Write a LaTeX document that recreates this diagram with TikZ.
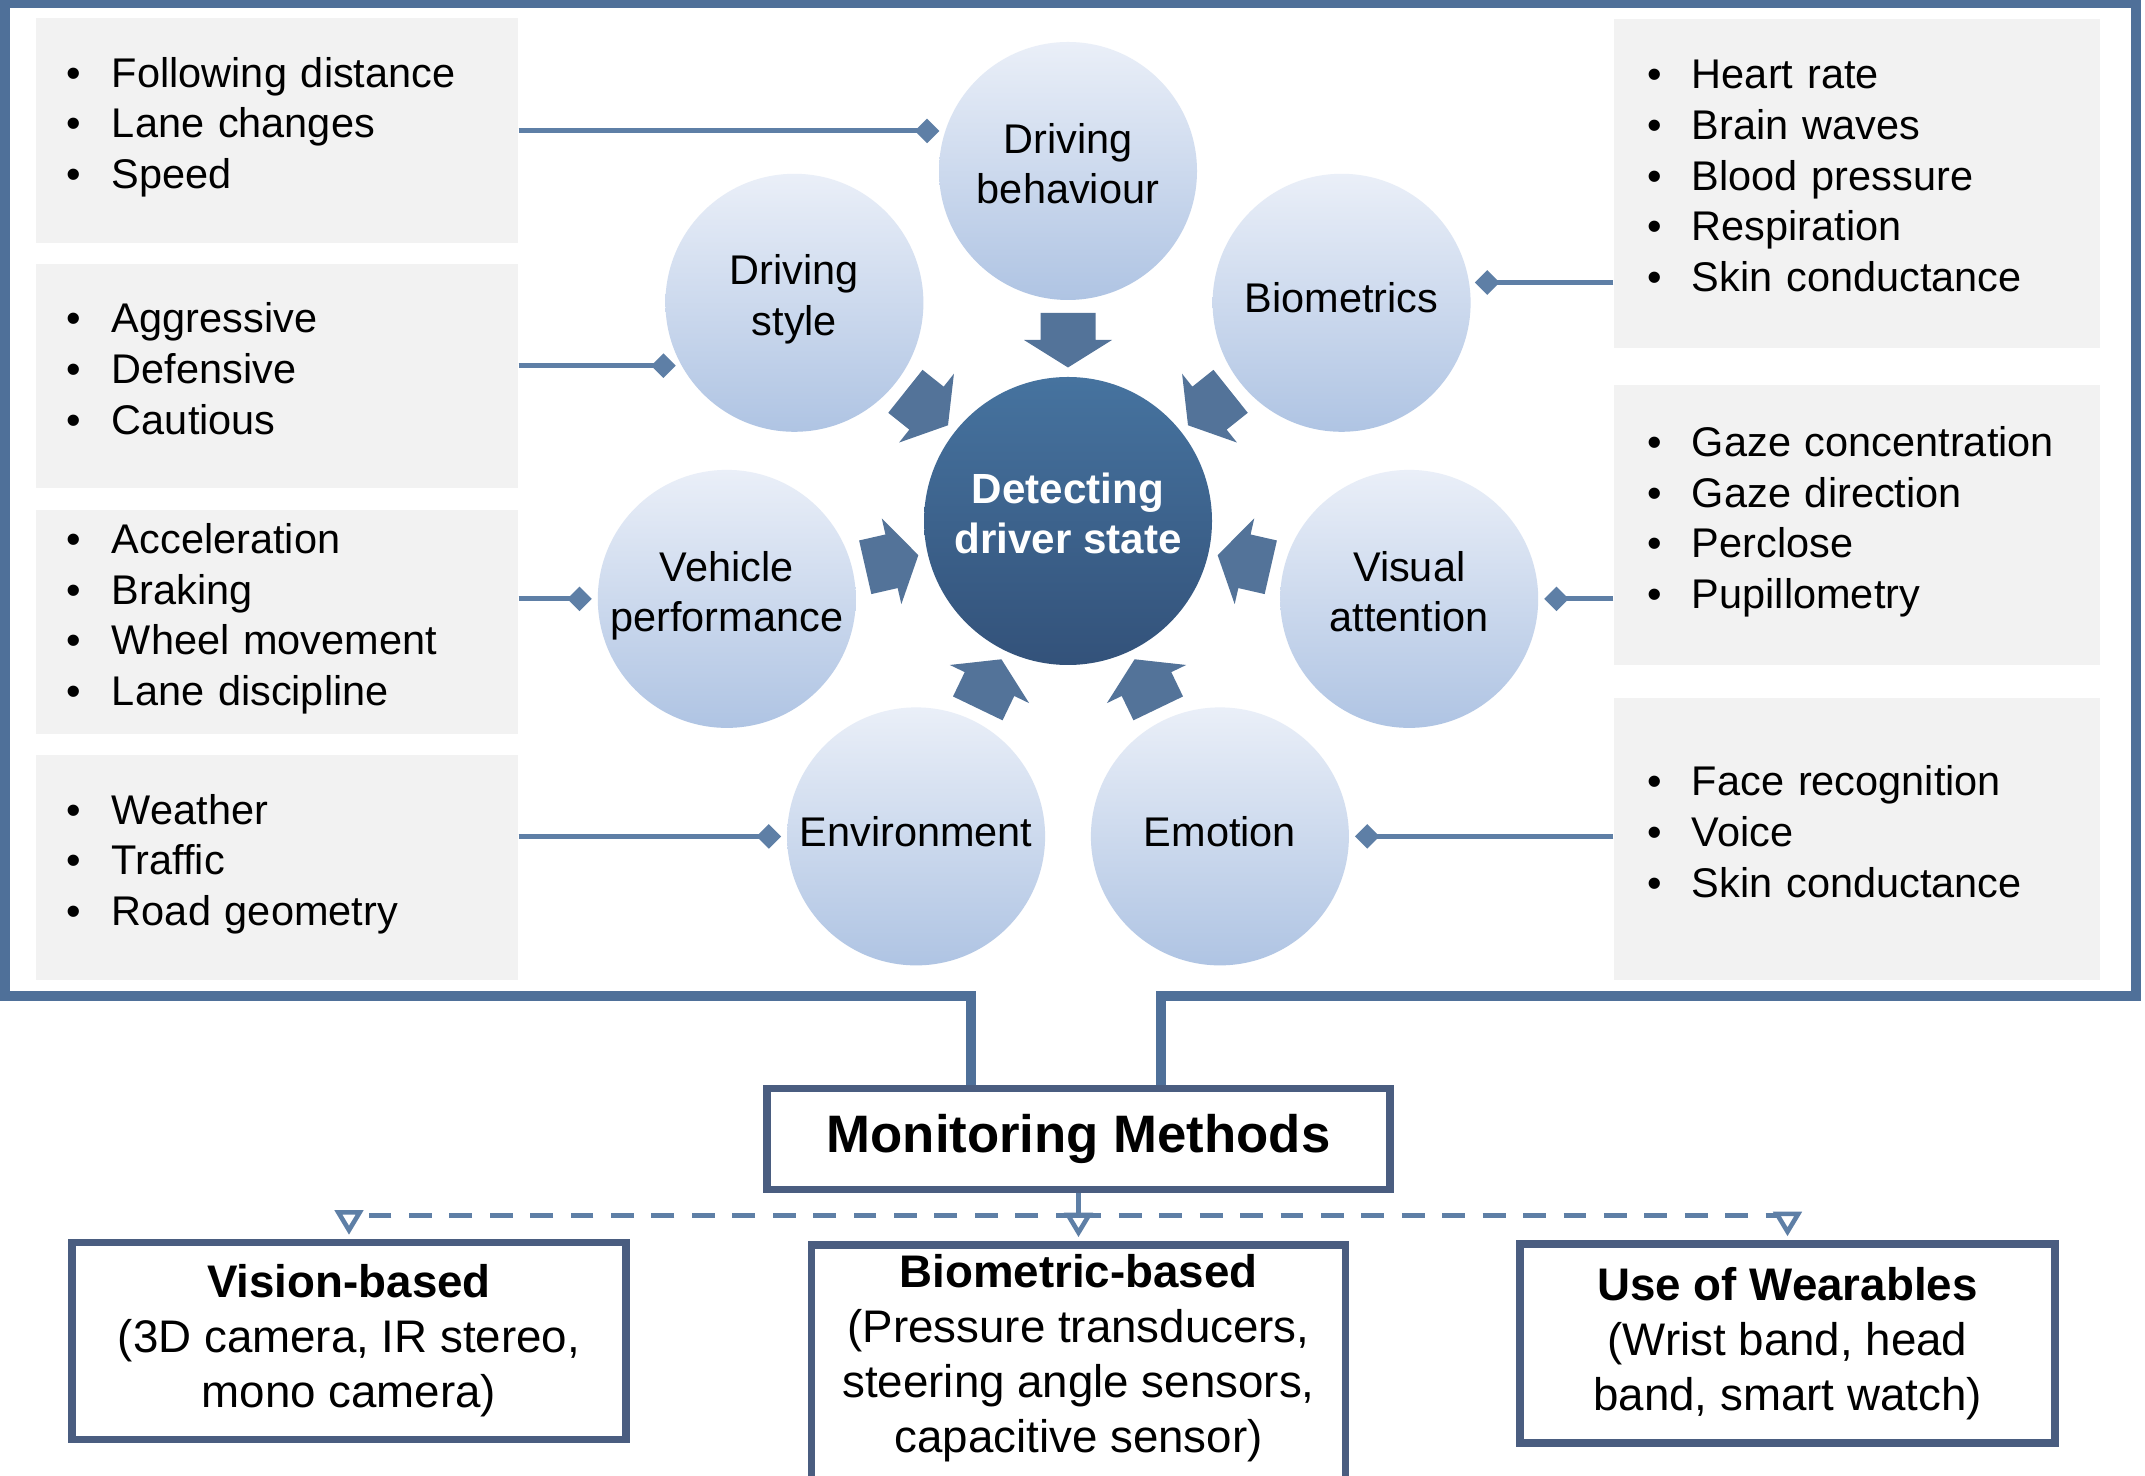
\documentclass[tikz,border=0pt]{standalone}
\usepackage{fontspec}
\setmainfont{Liberation Sans}
\usetikzlibrary{arrows.meta,positioning}

\definecolor{framecol}{HTML}{4F7099}
\definecolor{boxline}{HTML}{4A5D80}
\definecolor{linkcol}{HTML}{5E7FA6}
\definecolor{listgray}{HTML}{F2F2F2}
\definecolor{petaltop}{HTML}{EAEFF8}
\definecolor{petalbot}{HTML}{AFC4E3}
\definecolor{coretop}{HTML}{46739F}
\definecolor{corebot}{HTML}{33527A}
\definecolor{arrowcol}{HTML}{537399}

\newcommand{\bul}{\makebox[0.45cm][l]{\textbullet}}

\begin{document}
\begin{tikzpicture}[
    listbox/.style={fill=listgray, text width=4.2cm, align=left, inner ysep=0pt,
        font=\fontsize{11.8}{14.4}\selectfont, execute at end node=\strut},
    petal/.style={circle, minimum size=2.58cm, inner sep=0pt, top color=petaltop,
        bottom color=petalbot, align=center, font=\fontsize{11.8}{14.4}\selectfont,
        execute at end node=\strut},
    core/.style={circle, minimum size=2.88cm, inner sep=0pt, top color=coretop,
        bottom color=corebot, text=white, align=center,
        font=\bfseries\fontsize{12}{14.4}\selectfont, execute at end node=\strut},
    inarrow/.style={fill=arrowcol},
    feedlink/.style={draw=linkcol, line width=1.4pt,
        -{Diamond[length=7pt,width=7pt]}, shorten >=1.5pt},
    outerframe/.style={draw=framecol, line width=2.6pt, line join=miter},
    methbox/.style={draw=boxline, line width=2.2pt, minimum width=6.23cm,
        minimum height=1.01cm, font=\bfseries\fontsize{15}{18}\selectfont},
    kindbox/.style={draw=boxline, line width=2.2pt, align=center,
        font=\fontsize{13}{15.6}\selectfont},
    droplink/.style={draw=linkcol, line width=1.3pt,
        -{Triangle[open,fill=white,length=7pt,width=8pt]}, shorten >=1.1pt},
    dashlink/.style={droplink, dash pattern=on 6.5pt off 5pt},
]
        \useasboundingbox (0, 0) rectangle (21.45, 14.75);
        \fill[white] (0, 0) rectangle (21.45, 14.75);

        % Left lists
        \node[listbox, inner xsep=0.31cm, minimum height=2.25cm] (l1) at (2.77, 13.445)
            {\bul Following distance\\\bul Lane changes\\\bul Speed};
        \node[listbox, inner xsep=0.31cm, minimum height=2.24cm] (l2) at (2.77, 10.99)
            {\bul Aggressive\\\bul Defensive\\\bul Cautious};
        \node[listbox, inner xsep=0.31cm, minimum height=2.24cm] (l3) at (2.77, 8.53)
            {\bul Acceleration\\\bul Braking\\\bul Wheel movement\\\bul Lane discipline};
        \node[listbox, inner xsep=0.31cm, minimum height=2.25cm] (l4) at (2.77, 6.075)
            {\bul Weather\\\bul Traffic\\\bul Road geometry};

        % Right lists
        \node[listbox, inner xsep=0.33cm, minimum height=3.29cm] (r1) at (18.57, 12.915)
            {\bul Heart rate\\\bul Brain waves\\\bul Blood pressure\\\bul Respiration\\\bul Skin conductance};
        \node[listbox, inner xsep=0.33cm, minimum height=2.80cm] (r2) at (18.57, 9.50)
            {\bul Gaze concentration\\\bul Gaze direction\\\bul Perclose\\\bul Pupillometry};
        \node[listbox, inner xsep=0.33cm, minimum height=2.82cm] (r3) at (18.57, 6.36)
            {\bul Face recognition\\\bul Voice\\\bul Skin conductance};

        % Factors round the driver state
        \coordinate (hub) at (10.68, 9.54);
        \node[core] (dstate) at (hub) {Detecting\\driver state};

        \node[petal] (dbeh) at (10.68, 13.04) {Driving\\behaviour};
        \node[petal] (dsty) at (7.944, 11.722) {Driving\\style};
        \node[petal] (veh) at (7.268, 8.761) {Vehicle\\performance};
        \node[petal] (env) at (9.161, 6.386) {Environment};
        \node[petal] (emo) at (12.199, 6.386) {Emotion};
        \node[petal] (vis) at (14.092, 8.761) {Visual\\attention};
        \node[petal] (bio) at (13.416, 11.722) {Biometrics};

        % Block arrows into the centre
        \fill[inarrow, shift={(hub)}, rotate=90] (2.08, 0.275) -- (1.81, 0.275) -- (1.81, 0.44) -- (1.535, 0) -- (1.81, -0.44) -- (1.81, -0.275) -- (2.08, -0.275) -- cycle;
        \fill[inarrow, shift={(hub)}, rotate=141.43] (2.08, 0.275) -- (1.81, 0.275) -- (1.81, 0.44) -- (1.535, 0) -- (1.81, -0.44) -- (1.81, -0.275) -- (2.08, -0.275) -- cycle;
        \fill[inarrow, shift={(hub)}, rotate=192.86] (2.08, 0.275) -- (1.81, 0.275) -- (1.81, 0.44) -- (1.535, 0) -- (1.81, -0.44) -- (1.81, -0.275) -- (2.08, -0.275) -- cycle;
        \fill[inarrow, shift={(hub)}, rotate=244.29] (2.08, 0.275) -- (1.81, 0.275) -- (1.81, 0.44) -- (1.535, 0) -- (1.81, -0.44) -- (1.81, -0.275) -- (2.08, -0.275) -- cycle;
        \fill[inarrow, shift={(hub)}, rotate=295.71] (2.08, 0.275) -- (1.81, 0.275) -- (1.81, 0.44) -- (1.535, 0) -- (1.81, -0.44) -- (1.81, -0.275) -- (2.08, -0.275) -- cycle;
        \fill[inarrow, shift={(hub)}, rotate=347.14] (2.08, 0.275) -- (1.81, 0.275) -- (1.81, 0.44) -- (1.535, 0) -- (1.81, -0.44) -- (1.81, -0.275) -- (2.08, -0.275) -- cycle;
        \fill[inarrow, shift={(hub)}, rotate=38.57] (2.08, 0.275) -- (1.81, 0.275) -- (1.81, 0.44) -- (1.535, 0) -- (1.81, -0.44) -- (1.81, -0.275) -- (2.08, -0.275) -- cycle;

        % Lists to factors
        \draw[feedlink] (dbeh.162 -| l1.east) -- (dbeh.162);
        \draw[feedlink] (dsty.209 -| l2.east) -- (dsty.209);
        \draw[feedlink] (veh.west -| l3.east) -- (veh.west);
        \draw[feedlink] (env.west -| l4.east) -- (env.west);
        \draw[feedlink] (bio.9 -| r1.west) -- (bio.9);
        \draw[feedlink] (vis.east -| r2.west) -- (vis.east);
        \draw[feedlink] (emo.east -| r3.west) -- (emo.east);

        % Monitoring Methods
        \node[methbox] (mm) at (10.785, 3.36) {Monitoring Methods};

        \coordinate (fl) at (9.71, 4.79);
        \coordinate (fr) at (11.61, 4.79);
        \draw[outerframe] (fl |- mm.north) -- (fl) -- (0.05, 4.79) -- (0.05, 14.72) -- (21.36, 14.72) -- (21.36, 4.79) -- (fr) -- (fr |- mm.north);

        \node[kindbox, minimum width=5.54cm, minimum height=1.97cm] (vb) at (3.49, 1.34)
            {\textbf{Vision-based}\\(3D camera, IR stereo,\\mono camera)};
        \node[kindbox, minimum width=5.34cm, anchor=north, inner ysep=0.1cm, text depth=2.3cm] (bb) at (10.785, 2.34)
            {\textbf{Biometric-based}\\(Pressure transducers,\\steering angle sensors,\\capacitive sensor)};
        \node[kindbox, minimum width=5.35cm, minimum height=1.99cm] (wb) at (17.875, 1.315)
            {\textbf{Use of Wearables}\\(Wrist band, head\\band, smart watch)};

        \coordinate (dl) at (10.785, 2.595);
        \draw[droplink] (mm.south) -- (bb.north);
        \draw[dashlink] (dl) -| (vb.north);
        \draw[dashlink] (dl) -| (wb.north);
\end{tikzpicture}
\end{document}
